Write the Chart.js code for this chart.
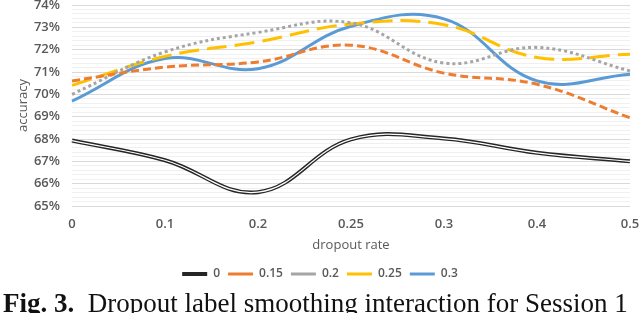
<!DOCTYPE html>
<html>
<head>
<meta charset="utf-8">
<script src="https://cdn.jsdelivr.net/npm/chart.js@4/dist/chart.umd.min.js"></script>
<style>
  html, body { margin: 0; padding: 0; background: #fff; overflow: hidden; }
  #wrap { position: absolute; left: 0; top: 0; width: 640px; height: 290px; }
  #caption {
    position: absolute; left: 3px; top: 290px; white-space: nowrap;
    font-family: 'Liberation Serif', 'DejaVu Serif', serif; font-size: 27px; line-height: 27px; color: #111;
  }
</style>
</head>
<body>
<div id="wrap"><canvas id="chart" width="640" height="290"></canvas></div>
<div id="caption"><b>Fig. 3.</b>&nbsp;&nbsp;Dropout label smoothing interaction for Session 1</div>
<script>
// dropout rate categories (equally spaced in the figure)
const dropoutRates = ['0', '0.1', '0.2', '0.25', '0.3', '0.4', '0.5'];

// accuracy (%) per label smoothing value
const ls0   = [67.93, 67.05, 65.62, 67.98, 68.02, 67.38, 67.0];
const ls015 = [70.6, 71.22, 71.45, 72.2, 70.95, 70.45, 68.95];
const ls02  = [70.0, 71.9, 72.77, 73.2, 71.4, 72.1, 71.05];
const ls025 = [70.4, 71.7, 72.35, 73.15, 73.12, 71.65, 71.8];
const ls03  = [69.7, 71.6, 71.15, 73.05, 73.38, 70.6, 70.9];

const yMin = 65, yMax = 74, yStep = 0.2;

const textColor = '#595959';
const font = "'Open Sans', 'Liberation Sans', sans-serif";

function isMajor(v) { return Math.abs(v - Math.round(v)) < 1e-6; }

const lineBase = { fill: false, pointRadius: 0, pointHoverRadius: 0, tension: 0.4, borderCapStyle: 'butt' };

new Chart(document.getElementById('chart'), {
    type: 'line',
    data: {
        labels: dropoutRates,
        datasets: [
            { ...lineBase, label: '0', data: ls0, borderColor: '#262626', borderWidth: 4 },
            // white core of the double line
            { ...lineBase, label: '', data: ls0, borderColor: '#ffffff', borderWidth: 1.2, order: -1 },
            { ...lineBase, label: '0.15', data: ls015, borderColor: '#ED7D31', borderWidth: 3, borderDash: [8, 4] },
            { ...lineBase, label: '0.2', data: ls02, borderColor: '#A5A5A5', borderWidth: 3, borderDash: [3, 3] },
            { ...lineBase, label: '0.25', data: ls025, borderColor: '#FFC000', borderWidth: 3, borderDash: [20, 8] },
            { ...lineBase, label: '0.3', data: ls03, borderColor: '#5B9BD5', borderWidth: 3 }
        ]
    },
    options: {
        responsive: false,
        animation: false,
        layout: { padding: { top: 5, right: 0, left: 0, bottom: 0 } },
        plugins: {
            tooltip: { enabled: false },
            legend: {
                position: 'bottom',
                labels: {
                    usePointStyle: true,
                    pointStyle: 'line',
                    pointStyleWidth: 25,
                    boxHeight: 12,
                    padding: 8,
                    color: textColor,
                    font: { family: font, size: 12, weight: '600' },
                    filter: item => item.text !== ''
                }
            }
        },
        scales: {
            x: {
                offset: false,
                grid: { display: false, drawTicks: false },
                border: { display: false },
                ticks: { color: textColor, padding: 10, font: { family: font, size: 13, weight: '600' }, maxRotation: 0 },
                title: { display: true, text: 'dropout rate', color: textColor, padding: { top: 0, bottom: 7 }, font: { family: font, size: 13 } },
                afterFit: s => { s.height = 54; s.paddingLeft = 0; s.paddingRight = 10; }
            },
            y: {
                min: yMin,
                max: yMax,
                grid: {
                    drawTicks: false,
                    color: ctx => isMajor(ctx.tick.value) ? '#D9D9D9' : '#F0F0F0',
                    lineWidth: 1
                },
                border: { display: false },
                ticks: {
                    stepSize: yStep,
                    autoSkip: false,
                    padding: 12,
                    color: textColor,
                    font: { family: font, size: 13, weight: '600' },
                    callback: v => isMajor(v) ? Math.round(v) + '%' : ''
                },
                title: { display: true, text: 'accuracy', color: textColor, padding: { top: 15, bottom: 0 }, font: { family: font, size: 13 } },
                afterFit: s => { s.width = 72; s.paddingTop = 0; s.paddingBottom = 0; }
            }
        }
    }
});
</script>
</body>
</html>
